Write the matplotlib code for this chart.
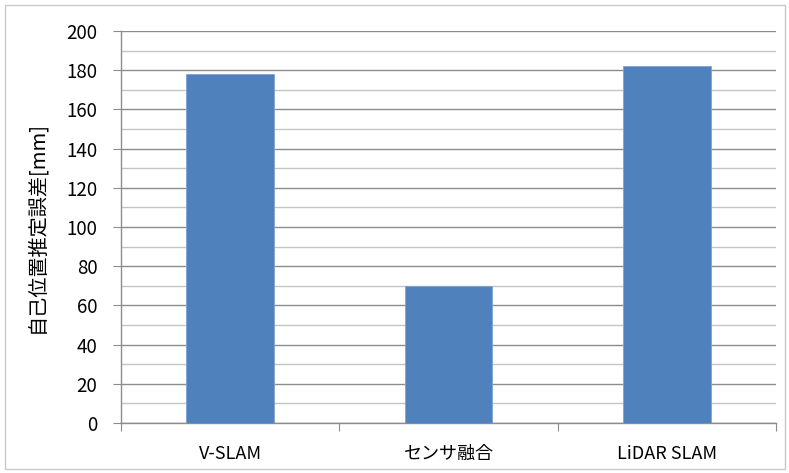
import matplotlib
matplotlib.use("Agg")
import matplotlib.pyplot as plt
from matplotlib.patches import Rectangle
from matplotlib.ticker import MultipleLocator

plt.rcParams['font.family'] = ['Noto Sans CJK JP', 'DejaVu Sans']

categories = ["V-SLAM", "センサ融合", "LiDAR SLAM"]
values = [178, 70, 182]
ylabel = "自己位置推定誤差[mm]"

fig = plt.figure(figsize=(7.89, 4.73), dpi=100)
fig.patches.append(Rectangle((5/789, 4/473), 780/789, 464/473, transform=fig.transFigure,
                             fill=False, edgecolor="#c8c8c8", linewidth=1.0))
ax = fig.add_axes([121/789, 50/473, 655/789, 392/473])

x = list(range(len(categories)))
ax.bar(x, values, width=0.4, color="#4F81BD", edgecolor="#7FA3D3", linewidth=0.6, zorder=3)

ax.set_xlim(-0.5, len(categories) - 0.5)
ax.set_ylim(0, 200)
ax.yaxis.set_major_locator(MultipleLocator(20))
ax.yaxis.set_minor_locator(MultipleLocator(10))
ax.grid(axis='y', which='major', color="#8c8c8c", linewidth=1.0, zorder=0)
ax.grid(axis='y', which='minor', color="#c4c4c4", linewidth=1.0, zorder=0)

ax.set_xticks([i - 0.5 for i in range(len(categories) + 1)], minor=False)
ax.set_xticklabels([])
ax.set_xticks(x, minor=True)
ax.set_xticklabels(categories, minor=True, fontsize=13)
ax.tick_params(axis='x', which='major', length=6, color="#8c8c8c", direction='out')
ax.tick_params(axis='x', which='minor', length=0, pad=16)
ax.tick_params(axis='y', which='major', length=6, color="#8c8c8c", labelsize=13.5, pad=11)
ax.tick_params(axis='y', which='minor', length=0)

for s in ['top', 'right']:
    ax.spines[s].set_visible(False)
for s in ['left', 'bottom']:
    ax.spines[s].set_color("#8c8c8c")
    ax.spines[s].set_linewidth(1.0)

ax.set_ylabel(ylabel, fontsize=14.5, labelpad=14)

fig.savefig("out.png", dpi=100)
